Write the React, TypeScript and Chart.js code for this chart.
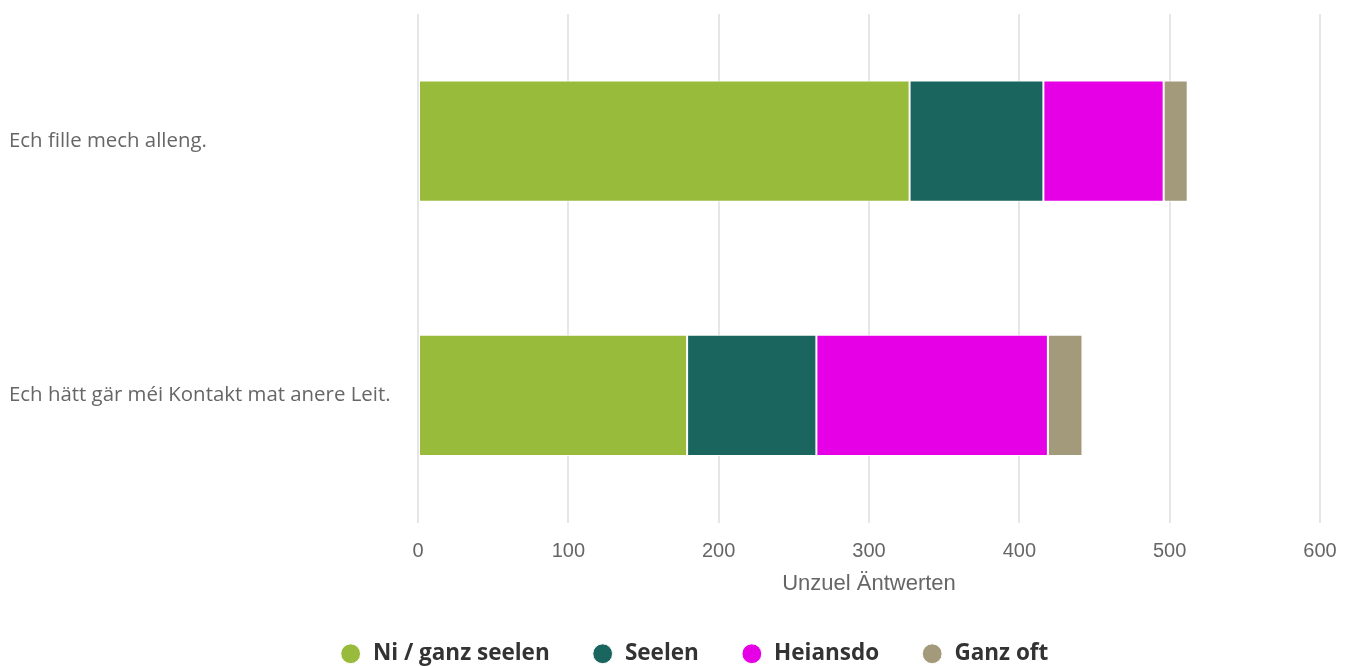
import React, { useEffect, useRef } from "react";
import { Chart, registerables } from "chart.js";

Chart.register(...registerables);

const categories = ["Ech fille mech alleng.", "Ech hätt gär méi Kontakt mat anere Leit."];
const seriesNames = ["Ni / ganz seelen", "Seelen", "Heiansdo", "Ganz oft"];
const niGanzSeelen = [327, 179];
const seelen = [89, 86];
const heiansdo = [80, 154];
const ganzOft = [16, 23];
const seriesColors = ["#99bb3b", "#1a655e", "#e600e6", "#a39a7b"];
const xTicks = [0, 100, 200, 300, 400, 500, 600];
const xTitle = "Unzuel Äntwerten";

const legendShift = {
  id: "legendShift",
  afterLayout(chart: any) {
    if (chart.legend) {
      chart.legend.left += 59;
    }
  },
};

export default function App() {
  const ref = useRef<HTMLCanvasElement | null>(null);
  useEffect(() => {
    document.body.style.margin = "0";
    if (!ref.current) return;
    const values = [niGanzSeelen, seelen, heiansdo, ganzOft];
    const chart = new Chart(ref.current, {
      type: "bar",
      data: {
        labels: categories,
        datasets: seriesNames.map((name, i) => ({
          label: name,
          data: values[i],
          backgroundColor: seriesColors[i],
          borderColor: "#ffffff",
          borderWidth: 1,
          borderSkipped: false,
          barPercentage: 0.8,
          categoryPercentage: 0.597,
        })),
      },
      plugins: [legendShift],
      options: {
        indexAxis: "y",
        animation: false,
        responsive: false,
        maintainAspectRatio: false,
        layout: { padding: { left: 9, top: 14, right: 32, bottom: -9 } },
        scales: {
          x: {
            stacked: true,
            min: xTicks[0],
            max: xTicks[xTicks.length - 1],
            afterBuildTicks: (scale: any) => {
              scale.ticks = xTicks.map((v) => ({ value: v }));
            },
            afterFit: (scale: any) => {
              scale.paddingRight = 0;
              scale.paddingLeft = 0;
            },
            grid: { color: "#e6e6e6", lineWidth: 2, drawTicks: false },
            border: { display: false },
            ticks: {
              color: "#666666",
              font: { family: "'Liberation Sans', Arial, sans-serif", size: 20 },
              padding: 17,
            },
            title: {
              display: true,
              text: xTitle,
              color: "#666666",
              font: { family: "'Liberation Sans', Arial, sans-serif", size: 22 },
              padding: { top: -10, bottom: 3.6 },
            },
          },
          y: {
            stacked: true,
            grid: { display: false, drawTicks: false },
            border: { display: false },
            afterFit: (scale: any) => {
              scale.width = 409;
              scale.paddingTop = 0;
              scale.paddingBottom = 0;
            },
            ticks: {
              crossAlign: "far",
              color: "#666666",
              font: { family: "'Open Sans', sans-serif", size: 20.4 },
            },
          },
        },
        plugins: {
          tooltip: { enabled: false },
          legend: {
            position: "bottom",
            labels: {
              usePointStyle: true,
              pointStyle: "circle",
              boxWidth: 22,
              boxHeight: 14,
              padding: 42,
              color: "#333333",
              font: { family: "'Open Sans', sans-serif", size: 22.5, weight: "bold" },
            },
          },
        },
      },
    });
    return () => chart.destroy();
  }, []);
  return (
    <div style={{ width: 1352, height: 666 }}>
      <canvas ref={ref} width={1352} height={666} style={{ display: "block", width: 1352, height: 666 }} />
    </div>
  );
}
